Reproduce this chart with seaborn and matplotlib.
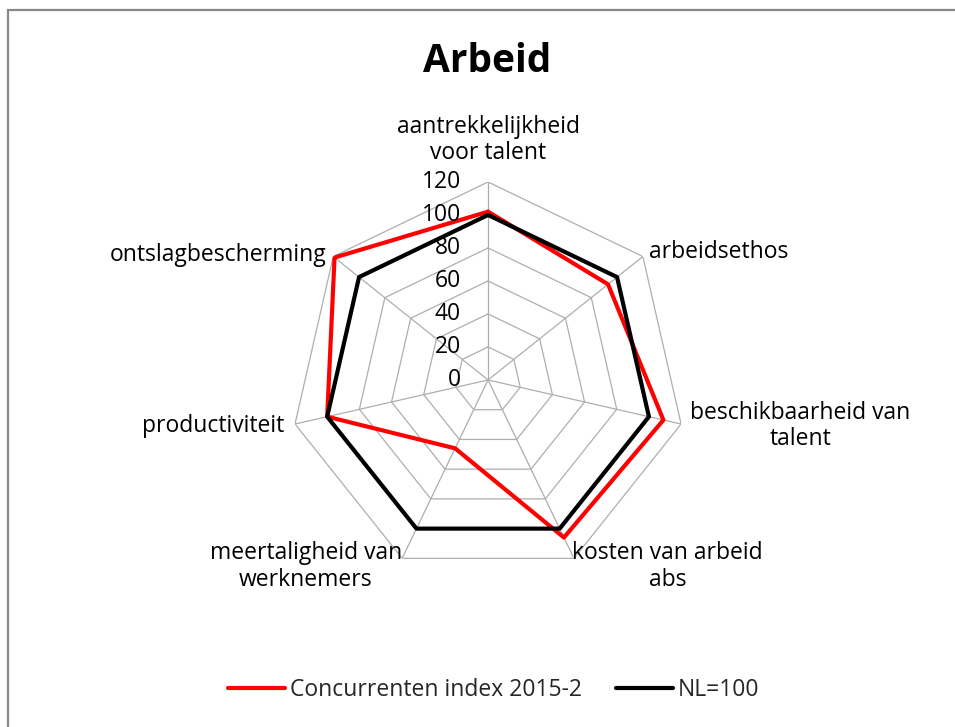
import numpy as np
import pandas as pd
import matplotlib
matplotlib.use("Agg")
import matplotlib.pyplot as plt
from matplotlib.transforms import offset_copy
from matplotlib.lines import Line2D
from matplotlib.patches import Rectangle
import seaborn as sns

categories = ["aantrekkelijkheid\nvoor talent", "arbeidsethos",
              "beschikbaarheid van\ntalent", "kosten van arbeid\nabs",
              "meertaligheid van\nwerknemers", "productiviteit",
              "ontslagbescherming"]
concurrenten = [102, 93, 109, 106, 46, 100, 119]
nl = [100, 100, 100, 100, 100, 100, 100]
series_names = ["Concurrenten index 2015-2", "NL=100"]
rings = [0, 20, 40, 60, 80, 100, 120]

sns.set_theme(style="white")
plt.rcParams["font.family"] = ["Open Sans", "DejaVu Sans"]

n = len(categories)
angles = np.linspace(0, 2 * np.pi, n, endpoint=False)
closed = np.append(angles, 2 * np.pi)

rows = []
for name, vals in zip(series_names, [concurrenten, nl]):
    for t, v in zip(closed, vals + vals[:1]):
        rows.append({"theta": t, "waarde": v, "reeks": name})
df = pd.DataFrame(rows)

fig = plt.figure(figsize=(9.55, 7.27), dpi=100)
ax = fig.add_axes([0.3037, 0.205, 0.4147, 0.5447], projection="polar")
ax.set_theta_zero_location("N")
ax.set_theta_direction(-1)
ax.set_ylim(0, 120)
ax.grid(False)
ax.spines["polar"].set_visible(False)
ax.set_xticks([])
ax.set_yticks([])
ax.patch.set_alpha(0)

# polygon grid
grid_c = "#AEAEAE"
for r in rings[1:]:
    ax.plot(closed, [r] * len(closed), color=grid_c, lw=0.9, zorder=1)
for a in angles:
    ax.plot([a, a], [0, 120], color=grid_c, lw=0.9, zorder=1)

sns.lineplot(data=df, x="theta", y="waarde", hue="reeks", sort=False,
             palette={"Concurrenten index 2015-2": "#FF0000", "NL=100": "#000000"},
             linewidth=3.0, ax=ax, legend=False, zorder=3)
ax.set_xlabel("")
ax.set_ylabel("")

fs = 16.5

# radial tick labels, left of the top spoke
lab_tr = offset_copy(ax.transData, fig=fig, x=-27, y=0, units="dots")
for r in rings:
    ax.text(0, r, str(r), transform=lab_tr, ha="right", va="center",
            fontsize=fs, color="#000000")

# category labels
specs = [
    (0, 42, "center", "center"),
    (6, 5, "left", "center"),
    (9, -2, "left", "center"),
    (-2, -8, "left", "center"),
    (0, -8, "right", "center"),
    (-11, -2, "right", "center"),
    (-7, 2, "right", "center"),
]
for a, lab, (dx, dy, ha, va) in zip(angles, categories, specs):
    tr = offset_copy(ax.transData, fig=fig, x=dx, y=dy, units="dots")
    ax.text(a, 120, lab, transform=tr, ha=ha, va=va, fontsize=fs,
            multialignment="center", linespacing=1.15, color="#000000")

fig.text(0.51, 1 - 62 / 727, "Arbeid", ha="center", va="center",
         fontsize=28, fontweight="bold", color="#000000")

handles = [Line2D([], [], color="#FF0000", lw=3.0),
           Line2D([], [], color="#000000", lw=3.0)]
fig.legend(handles, series_names, loc="center", bbox_to_anchor=(0.517, 1 - 690 / 727),
           ncol=2, frameon=False, fontsize=fs, handlelength=2.5,
           handletextpad=0.2, columnspacing=1.5)

fig.patches.append(Rectangle((8 / 955, -0.1), 1.2, 1 - 10 / 727 + 0.1,
                             transform=fig.transFigure, fill=False,
                             edgecolor="#888888", lw=1.6, zorder=0))

fig.savefig("out.png", dpi=100, facecolor="white")
